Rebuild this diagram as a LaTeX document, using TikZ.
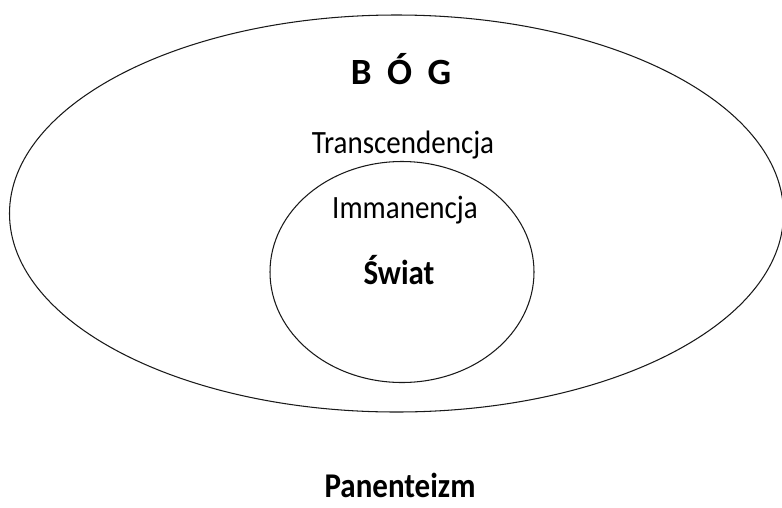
\documentclass[tikz,border=0pt]{standalone}
\usepackage{fontspec}
\setmainfont{Carlito}
\usetikzlibrary{shapes.geometric}
\tikzset{
  outline/.style={draw=black!90, line width=1.05pt},
  lbl/.style={inner sep=0pt, anchor=base, yscale=1.12, font=\fontsize{29}{34}\selectfont},
  bold lbl/.style={lbl, font=\fontsize{31}{36}\selectfont\bfseries},
}
\begin{document}
\begin{tikzpicture}[x=1pt,y=-1pt]
\useasboundingbox[fill=white] (0,0) rectangle (782,507);
\node[outline, ellipse, minimum width=774pt, minimum height=397pt, inner sep=0pt] (bog) at (396.5,213.5) {};
\node[outline, ellipse, minimum width=264pt, minimum height=221pt, inner sep=0pt] (swiat) at (402,272) {};
\node[inner sep=0pt, anchor=base, font=\fontsize{37}{42}\selectfont\bfseries] (boglbl) at (401,84) {B\hspace{0.42em}Ó\hspace{0.42em}G};
\node[lbl] (trans) at (403,153) {Transcendencja};
\node[lbl] (imman) at (405,218) {Immanencja};
\node[bold lbl] (sw) at (399,284) {Świat};
\node[bold lbl] (pan) at (400,497) {Panenteizm};
\end{tikzpicture}
\end{document}
